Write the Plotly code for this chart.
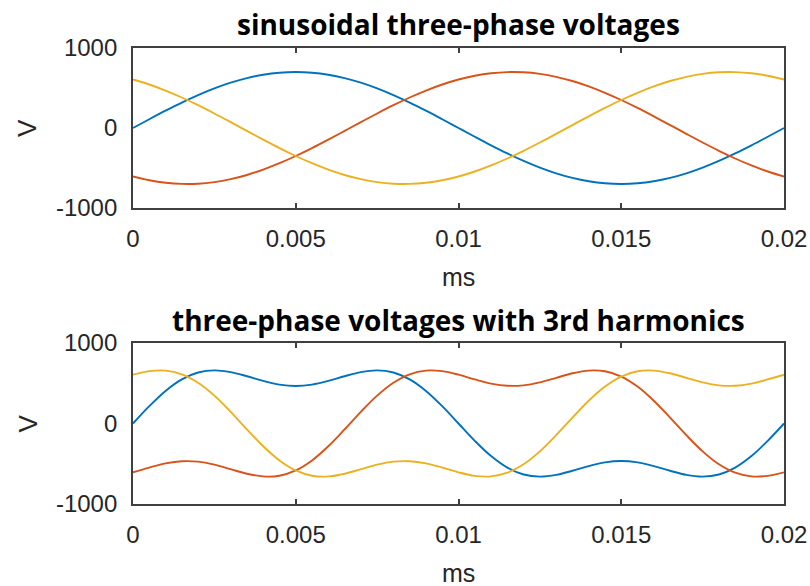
import plotly.graph_objects as go

# Sample times (s), one fundamental period of 50 Hz
t = [0.0, 0.0005, 0.001, 0.0015, 0.002, 0.0025, 0.003, 0.0035, 0.004, 0.0045,
     0.005, 0.0055, 0.006, 0.0065, 0.007, 0.0075, 0.008, 0.0085, 0.009, 0.0095,
     0.01, 0.0105, 0.011, 0.0115, 0.012, 0.0125, 0.013, 0.0135, 0.014, 0.0145,
     0.015, 0.0155, 0.016, 0.0165, 0.017, 0.0175, 0.018, 0.0185, 0.019, 0.0195,
     0.02]

# Sinusoidal phase voltages (V)
va = [0, 109.5, 216.3, 317.8, 411.5, 495.0, 566.3, 623.7, 665.7, 691.4,
      700, 691.4, 665.7, 623.7, 566.3, 495.0, 411.5, 317.8, 216.3, 109.5,
      0, -109.5, -216.3, -317.8, -411.5, -495.0, -566.3, -623.7, -665.7, -691.4,
      -700, -691.4, -665.7, -623.7, -566.3, -495.0, -411.5, -317.8, -216.3, -109.5,
      0]
vb = [-606.2, -653.5, -684.7, -699.0, -696.2, -676.2, -639.5, -587.1, -520.2, -440.5,
      -350, -250.9, -145.5, -36.6, 73.2, 181.2, 284.7, 381.2, 468.4, 544.0,
      606.2, 653.5, 684.7, 699.0, 696.2, 676.2, 639.5, 587.1, 520.2, 440.5,
      350, 250.9, 145.5, 36.6, -73.2, -181.2, -284.7, -381.2, -468.4, -544.0,
      -606.2]
vc = [606.2, 544.0, 468.4, 381.2, 284.7, 181.2, 73.2, -36.6, -145.5, -250.9,
      -350, -440.5, -520.2, -587.1, -639.5, -676.2, -696.2, -699.0, -684.7, -653.5,
      -606.2, -544.0, -468.4, -381.2, -284.7, -181.2, -73.2, 36.6, 145.5, 250.9,
      350, 440.5, 520.2, 587.1, 639.5, 676.2, 696.2, 699.0, 684.7, 653.5,
      606.2]

# Phase voltages with 3rd harmonic injection (V)
ha = [0, 215.4, 405.1, 548.2, 633.4, 660.0, 638.4, 587.2, 528.6, 483.5,
      466.7, 483.5, 528.6, 587.2, 638.4, 660.0, 633.4, 548.2, 405.1, 215.4,
      0, -215.4, -405.1, -548.2, -633.4, -660.0, -638.4, -587.2, -528.6, -483.5,
      -466.7, -483.5, -528.6, -587.2, -638.4, -660.0, -633.4, -548.2, -405.1, -215.4,
      0]
hb = [-606.2, -547.6, -495.9, -468.6, -474.3, -511.2, -567.4, -623.6, -657.3, -648.4,
      -583.3, -458.8, -282.6, -73.1, 145.3, 346.2, 506.6, 611.6, 657.2, 649.9,
      606.2, 547.6, 495.9, 468.6, 474.3, 511.2, 567.4, 623.6, 657.3, 648.4,
      583.3, 458.8, 282.6, 73.1, -145.3, -346.2, -506.6, -611.6, -657.2, -649.9,
      -606.2]
hc = [606.2, 649.9, 657.2, 611.6, 506.6, 346.2, 145.3, -73.1, -282.6, -458.8,
      -583.3, -648.4, -657.3, -623.6, -567.4, -511.2, -474.3, -468.6, -495.9, -547.6,
      -606.2, -649.9, -657.2, -611.6, -506.6, -346.2, -145.3, 73.1, 282.6, 458.8,
      583.3, 648.4, 657.3, 623.6, 567.4, 511.2, 474.3, 468.6, 495.9, 547.6,
      606.2]

x_ticks = [0, 0.005, 0.01, 0.015, 0.02]
x_tick_text = ["0", "0.005", "0.01", "0.015", "0.02"]
y_ticks = [-1000, 0, 1000]
y_tick_text = ["-1000", "0", "1000"]

titles = ["sinusoidal three-phase voltages", "three-phase voltages with 3rd harmonics"]
colors = ["#0072BD", "#D95319", "#EDB120"]

W, H = 810, 586
FONT = "Liberation Sans, Arial, sans-serif"
TXT = "#262626"
AX = "#404040"

fig = go.Figure()
panels = [(va, vb, vc), (ha, hb, hc)]
for i, series in enumerate(panels):
    xa = "x" if i == 0 else "x2"
    ya = "y" if i == 0 else "y2"
    for s, c in zip(series, colors):
        fig.add_trace(go.Scatter(x=t, y=s, mode="lines", xaxis=xa, yaxis=ya,
                                 line=dict(color=c, width=1.9, shape="spline"),
                                 showlegend=False, hoverinfo="skip"))

# Axes boxes in pixel terms
x0, x1 = 133, 784
boxes = [(48, 208), (343, 504)]

def xax(anchor):
    return dict(domain=[x0 / W, x1 / W], range=[0, 0.02], anchor=anchor,
                tickvals=x_ticks, ticktext=x_tick_text, ticks="inside", ticklen=5,
                tickwidth=1.5, tickcolor=AX, showline=True, linecolor=AX, linewidth=1.8,
                mirror="ticks", showgrid=False, zeroline=False, automargin=False,
                tickfont=dict(family=FONT, size=24, color=TXT), ticklabelstandoff=8)

def yax(anchor, top, bot):
    return dict(domain=[1 - bot / H, 1 - top / H], range=[-1000, 1000], anchor=anchor,
                tickvals=y_ticks, ticktext=y_tick_text, ticks="", showline=True,
                linecolor=AX, linewidth=1.8, mirror=True, showgrid=False, zeroline=False,
                automargin=False,
                tickfont=dict(family=FONT, size=24, color=TXT), ticklabelstandoff=9)

fig.update_layout(
    width=W, height=H, margin=dict(l=0, r=0, t=0, b=0),
    paper_bgcolor="white", plot_bgcolor="white",
    xaxis=xax("y"), yaxis=yax("x", *boxes[0]),
    xaxis2=xax("y2"), yaxis2=yax("x2", *boxes[1]),
)

annotations = []
title_y = [24, 320]
ms_y = [277, 573]
for i, (top, bot) in enumerate(boxes):
    annotations.append(dict(text="<b>" + titles[i] + "</b>", x=(x0 + x1) / 2 / W,
                            y=1 - title_y[i] / H, xref="paper", yref="paper",
                            showarrow=False, xanchor="center", yanchor="middle",
                            font=dict(family="Open Sans, sans-serif", size=28, color="#000000")))
    annotations.append(dict(text="ms", x=(x0 + x1) / 2 / W, y=1 - ms_y[i] / H,
                            xref="paper", yref="paper", showarrow=False,
                            xanchor="center", yanchor="middle",
                            font=dict(family=FONT, size=25, color=TXT)))
    annotations.append(dict(text="V", x=27 / W, y=1 - (top + bot) / 2 / H,
                            xref="paper", yref="paper", showarrow=False, textangle=-90,
                            xanchor="center", yanchor="middle",
                            font=dict(family=FONT, size=26, color=TXT)))
fig.update_layout(annotations=annotations)

fig.write_html("out.html")
